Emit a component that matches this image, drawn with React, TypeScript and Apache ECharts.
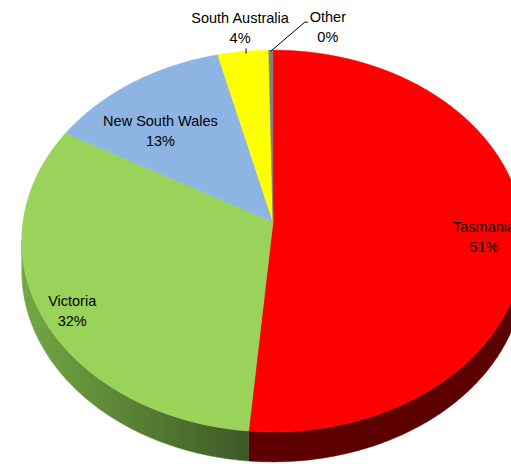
import React, { useEffect, useRef } from "react";
import * as echarts from "echarts";

const categories = ["Tasmania", "Victoria", "New South Wales", "South Australia", "Other"];
const values = [51.4, 31.8, 12.9, 3.6, 0.3];
const topColors = ["#FF0000", "#99D35A", "#8EB4E3", "#FFFF00", "#808080"];
const sideColors = ["#5C0000", "#4E7A2E", "#5A7AA0", "#9A9A00", "#505050"];
// label placement: inside (ratio of radius) or outside with leader
const labelModes = ["inside", "inside", "inside", "outsideUp", "outsideRight"];
const labelNudge: [number, number][] = [[-2, 2], [-5, 5], [8, 23], [0, 0], [2, 0]];

const CX = 273;
const CY = 222;
const A = 250; // horizontal radius
const B = 189; // vertical radius factor
const K = 0.0995; // perspective factor
const DEPTH = 30;
const FONT = "14.5px 'Liberation Sans', Arial, sans-serif";

function proj(theta: number, r: number, dy: number): [number, number] {
  const t = (theta * Math.PI) / 180;
  const X = r * Math.sin(t);
  const Z = r * Math.cos(t);
  const d = 1 + K * Z;
  return [CX + (A * X) / d, CY - (B * Z) / d + dy];
}

function arc(t1: number, t2: number, dy: number): [number, number][] {
  const n = Math.max(2, Math.ceil(Math.abs(t2 - t1) / 0.5));
  const pts: [number, number][] = [];
  for (let i = 0; i <= n; i++) pts.push(proj(t1 + ((t2 - t1) * i) / n, 1, dy));
  return pts;
}

const total = values.reduce((s, v) => s + v, 0);
const starts: number[] = [];
values.reduce((acc, v) => {
  starts.push((acc / total) * 360);
  return acc + v;
}, 0);

const FRONT_L = (Math.acos(-K) * 180) / Math.PI; // right extreme
const FRONT_R = 360 - FRONT_L; // left extreme

export default function App() {
  const ref = useRef<HTMLDivElement>(null);
  useEffect(() => {
    if (!ref.current) return;
    const chart = echarts.init(ref.current, undefined, { renderer: "svg" });
    const renderItem = (params: any, api: any) => {
      const i = params.dataIndex;
      const v = api.value(0);
      const t1 = starts[i];
      const t2 = t1 + (v / total) * 360;
      const children: any[] = [];
      // side wall
      const s1 = Math.max(t1, FRONT_L);
      const s2 = Math.min(t2, FRONT_R);
      if (s2 > s1) {
        const topArc = arc(s1, s2, 0);
        const botArc = arc(s2, s1, DEPTH);
        let fill: any = sideColors[i];
        if (i === 1) {
          fill = new echarts.graphic.LinearGradient(
            22, 0, 256, 0,
            [
              { offset: 0, color: "#73A843" },
              { offset: 0.5, color: "#577F34" },
              { offset: 1, color: "#3B5625" },
            ],
            true
          );
        }
        children.push({
          type: "polygon",
          z2: 1,
          shape: { points: topArc.concat(botArc) },
          style: { fill, stroke: fill, lineWidth: 0.5 },
        });
      }
      // top face
      const pts = [[CX, CY] as [number, number]].concat(arc(t1, t2, 0));
      children.push({
        type: "polygon",
        z2: 10,
        shape: { points: pts },
        style: { fill: topColors[i], stroke: topColors[i], lineWidth: 0.5 },
      });
      // labels
      const pct = Math.round((v / total) * 100) + "%";
      const mid = (t1 + t2) / 2;
      const mode = labelModes[i];
      const [nx, ny] = labelNudge[i];
      const textStyle = {
        text: categories[i] + "\n" + pct,
        align: "center",
        verticalAlign: "middle",
        font: FONT,
        lineHeight: 20,
        fill: "#000000",
      };
      if (mode === "inside") {
        const [lx, ly] = proj(mid, 0.85, 6);
        children.push({
          type: "text",
          z2: 20,
          style: { ...textStyle, x: lx + nx, y: ly + ny },
        });
      } else if (mode === "outsideUp") {
        const [ax, ay] = proj(mid, 1, 0);
        children.push({
          type: "polyline",
          z2: 20,
          shape: { points: [[ax + 3, ay + 2], [ax + 3, ay - 3]] },
          style: { stroke: "#000000", lineWidth: 1, fill: null },
        });
        children.push({
          type: "text",
          z2: 20,
          style: { ...textStyle, x: ax - 3 + nx, y: ay - 23 + ny },
        });
      } else {
        const [ax, ay] = proj(mid, 1, 0);
        children.push({
          type: "polyline",
          z2: 20,
          shape: { points: [[ax, ay + 1], [ax + 34, ay - 28], [ax + 37, ay - 28]] },
          style: { stroke: "#000000", lineWidth: 1, fill: null },
        });
        children.push({
          type: "text",
          z2: 20,
          style: { ...textStyle, x: ax + 55 + nx, y: ay - 23 + ny },
        });
      }
      return { type: "group", children };
    };
    chart.setOption({
      animation: false,
      backgroundColor: "#ffffff",
      series: [
        {
          type: "custom",
          coordinateSystem: "none",
          renderItem,
          data: values.map((v, i) => ({ name: categories[i], value: [v] })),
        },
      ],
    });
    return () => chart.dispose();
  }, []);
  return (
    <div
      ref={ref}
      style={{ position: "fixed", left: 0, top: 0, width: 511, height: 464 }}
    />
  );
}
